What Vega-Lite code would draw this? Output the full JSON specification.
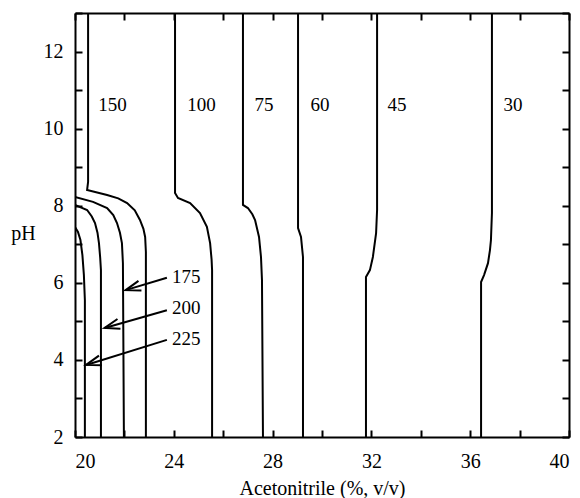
{
  "$schema": "https://vega.github.io/schema/vega-lite/v6.json",
  "width": 494,
  "height": 424,
  "autosize": {"type": "none"},
  "padding": {"left": 75, "top": 13, "right": 11, "bottom": 61},
  "background": "white",
  "config": {
    "view": {"stroke": null},
    "axis": {
      "grid": false,
      "domainColor": "black",
      "domainWidth": 2,
      "tickColor": "black",
      "tickWidth": 2,
      "tickSize": -7,
      "labelFont": "Liberation Serif",
      "labelFontSize": 20,
      "labelColor": "black",
      "titleFont": "Liberation Serif",
      "titleFontSize": 20,
      "titleFontWeight": "normal",
      "titleColor": "black"
    }
  },
  "datasets": {
    "lines": [
      {"c": "150", "acn": 20.53, "ph": 13},
      {"c": "150", "acn": 20.53, "ph": 8.62},
      {"c": "150", "acn": 20.49, "ph": 8.41},
      {"c": "150", "acn": 21.3, "ph": 8.28},
      {"c": "150", "acn": 21.75, "ph": 8.19},
      {"c": "150", "acn": 22.11, "ph": 8.07},
      {"c": "150", "acn": 22.42, "ph": 7.88},
      {"c": "150", "acn": 22.63, "ph": 7.63},
      {"c": "150", "acn": 22.77, "ph": 7.4},
      {"c": "150", "acn": 22.84, "ph": 7.19},
      {"c": "150", "acn": 22.87, "ph": 6.8},
      {"c": "150", "acn": 22.87, "ph": 2},
      {"c": "175", "acn": 20.0, "ph": 8.23},
      {"c": "175", "acn": 20.73, "ph": 8.1},
      {"c": "175", "acn": 21.3, "ph": 7.94},
      {"c": "175", "acn": 21.55, "ph": 7.76},
      {"c": "175", "acn": 21.7, "ph": 7.55},
      {"c": "175", "acn": 21.82, "ph": 7.3},
      {"c": "175", "acn": 21.9, "ph": 7.03},
      {"c": "175", "acn": 21.94, "ph": 6.51},
      {"c": "175", "acn": 21.98, "ph": 2},
      {"c": "200", "acn": 20.0, "ph": 8.02},
      {"c": "200", "acn": 20.49, "ph": 7.89},
      {"c": "200", "acn": 20.68, "ph": 7.72},
      {"c": "200", "acn": 20.81, "ph": 7.55},
      {"c": "200", "acn": 20.91, "ph": 7.3},
      {"c": "200", "acn": 20.97, "ph": 7.03},
      {"c": "200", "acn": 21.02, "ph": 6.65},
      {"c": "200", "acn": 21.05, "ph": 6.33},
      {"c": "200", "acn": 21.05, "ph": 2},
      {"c": "225", "acn": 20.0, "ph": 7.45},
      {"c": "225", "acn": 20.12, "ph": 7.32},
      {"c": "225", "acn": 20.22, "ph": 7.11},
      {"c": "225", "acn": 20.3, "ph": 6.72},
      {"c": "225", "acn": 20.36, "ph": 6.2},
      {"c": "225", "acn": 20.4, "ph": 5.55},
      {"c": "225", "acn": 20.4, "ph": 2},
      {"c": "100", "acn": 24.05, "ph": 13},
      {"c": "100", "acn": 24.05, "ph": 8.33},
      {"c": "100", "acn": 24.17, "ph": 8.2},
      {"c": "100", "acn": 24.66, "ph": 8.07},
      {"c": "100", "acn": 25.06, "ph": 7.81},
      {"c": "100", "acn": 25.34, "ph": 7.45},
      {"c": "100", "acn": 25.47, "ph": 7.03},
      {"c": "100", "acn": 25.53, "ph": 6.6},
      {"c": "100", "acn": 25.55, "ph": 6.33},
      {"c": "100", "acn": 25.55, "ph": 2},
      {"c": "75", "acn": 26.8, "ph": 13},
      {"c": "75", "acn": 26.8, "ph": 8.02},
      {"c": "75", "acn": 27.0, "ph": 7.94},
      {"c": "75", "acn": 27.18, "ph": 7.78},
      {"c": "75", "acn": 27.29, "ph": 7.63},
      {"c": "75", "acn": 27.45, "ph": 7.19},
      {"c": "75", "acn": 27.53, "ph": 6.67},
      {"c": "75", "acn": 27.57, "ph": 6.07},
      {"c": "75", "acn": 27.61, "ph": 2},
      {"c": "60", "acn": 29.03, "ph": 13},
      {"c": "60", "acn": 29.03, "ph": 7.42},
      {"c": "60", "acn": 29.15, "ph": 7.19},
      {"c": "60", "acn": 29.23, "ph": 6.67},
      {"c": "60", "acn": 29.23, "ph": 2},
      {"c": "45", "acn": 32.23, "ph": 13},
      {"c": "45", "acn": 32.23, "ph": 7.89},
      {"c": "45", "acn": 32.19, "ph": 7.29},
      {"c": "45", "acn": 32.06, "ph": 6.67},
      {"c": "45", "acn": 31.94, "ph": 6.33},
      {"c": "45", "acn": 31.78, "ph": 6.15},
      {"c": "45", "acn": 31.78, "ph": 2},
      {"c": "30", "acn": 36.88, "ph": 13},
      {"c": "30", "acn": 36.88, "ph": 7.81},
      {"c": "30", "acn": 36.84, "ph": 7.11},
      {"c": "30", "acn": 36.8, "ph": 6.85},
      {"c": "30", "acn": 36.72, "ph": 6.51},
      {"c": "30", "acn": 36.56, "ph": 6.2},
      {"c": "30", "acn": 36.44, "ph": 6.02},
      {"c": "30", "acn": 36.44, "ph": 2},
      {"c": "arrow 175", "acn": 23.72, "ph": 6.13},
      {"c": "arrow 175", "acn": 22.05, "ph": 5.81},
      {"c": "head 175", "acn": 22.57, "ph": 6.05},
      {"c": "head 175", "acn": 22.05, "ph": 5.81},
      {"c": "head 175", "acn": 22.69, "ph": 5.8},
      {"c": "arrow 200", "acn": 23.72, "ph": 5.29},
      {"c": "arrow 200", "acn": 21.2, "ph": 4.83},
      {"c": "head 200", "acn": 21.72, "ph": 5.06},
      {"c": "head 200", "acn": 21.2, "ph": 4.83},
      {"c": "head 200", "acn": 21.84, "ph": 4.81},
      {"c": "arrow 225", "acn": 23.72, "ph": 4.52},
      {"c": "arrow 225", "acn": 20.45, "ph": 3.87},
      {"c": "head 225", "acn": 20.97, "ph": 4.11},
      {"c": "head 225", "acn": 20.45, "ph": 3.87},
      {"c": "head 225", "acn": 21.09, "ph": 3.86}
    ],
    "labels": [
      {"t": "150", "acn": 21.52, "ph": 10.61},
      {"t": "100", "acn": 25.12, "ph": 10.61},
      {"t": "75", "acn": 27.65, "ph": 10.61},
      {"t": "60", "acn": 29.92, "ph": 10.61},
      {"t": "45", "acn": 33.04, "ph": 10.61},
      {"t": "30", "acn": 37.73, "ph": 10.61},
      {"t": "175", "acn": 24.5, "ph": 6.15},
      {"t": "200", "acn": 24.5, "ph": 5.35},
      {"t": "225", "acn": 24.5, "ph": 4.54}
    ]
  },
  "layer": [
    {
      "data": {"name": "lines"},
      "mark": {"type": "line", "color": "black", "strokeWidth": 2, "clip": true},
      "encoding": {
        "x": {
          "field": "acn", "type": "quantitative",
          "scale": {"domain": [20, 40], "nice": false, "zero": false},
          "axis": {
            "orient": "bottom",
            "values": [20, 22, 24, 26, 28, 30, 32, 34, 36, 38, 40],
            "labelExpr": "datum.value % 4 === 0 ? datum.label : ''",
            "labelPadding": 21,
            "title": "Acetonitrile (%, v/v)",
            "titleY": 57,
            "titleBaseline": "alphabetic"
          }
        },
        "y": {
          "field": "ph", "type": "quantitative",
          "scale": {"domain": [2, 13], "nice": false, "zero": false},
          "axis": {
            "orient": "left",
            "values": [2, 3, 4, 5, 6, 7, 8, 9, 10, 11, 12, 13],
            "labelExpr": "datum.value % 2 === 0 ? datum.label : ''",
            "labelPadding": 19,
            "title": "pH",
            "titleAngle": 0,
            "titleX": -52,
            "titleY": 220,
            "titleAlign": "center",
            "titleBaseline": "middle"
          }
        },
        "detail": {"field": "c"},
        "order": {"field": "ph", "sort": "descending"}
      }
    },
    {
      "data": {"name": "labels"},
      "mark": {"type": "text", "font": "Liberation Serif", "fontSize": 19, "color": "black", "align": "center", "baseline": "middle"},
      "encoding": {
        "x": {
          "field": "acn", "type": "quantitative",
          "scale": {"domain": [20, 40], "nice": false, "zero": false},
          "axis": {
            "orient": "top",
            "values": [20, 22, 24, 26, 28, 30, 32, 34, 36, 38, 40],
            "labels": false,
            "title": null
          }
        },
        "y": {
          "field": "ph", "type": "quantitative",
          "scale": {"domain": [2, 13], "nice": false, "zero": false},
          "axis": {
            "orient": "right",
            "values": [2, 3, 4, 5, 6, 7, 8, 9, 10, 11, 12, 13],
            "labels": false,
            "title": null
          }
        },
        "text": {"field": "t"}
      }
    }
  ],
  "resolve": {"axis": {"x": "independent", "y": "independent"}}
}
